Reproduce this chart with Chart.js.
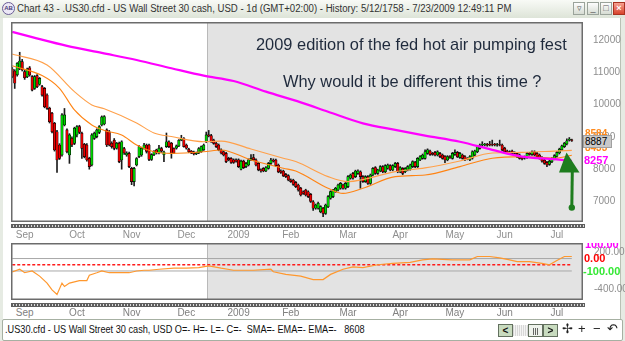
<!DOCTYPE html>
<html>
<head>
<meta charset="utf-8">
<title>.US30.cfd daily</title>
<script src="https://cdn.jsdelivr.net/npm/chart.js@4.4.1/dist/chart.umd.min.js"></script>
<style>
  html, body { margin: 0; padding: 0; }
  body { width: 625px; height: 341px; position: relative; overflow: hidden; background: #e6ebe3;
         font-family: "Liberation Sans", Arial, sans-serif; }
  .abs { position: absolute; }
  .fit { white-space: pre; display: inline-block; transform-origin: 0 50%; }
  #titlebar { left: 0; top: 0; width: 625px; height: 18px; background: linear-gradient(#f8faf6, #dde4d8); }
  #icon { left: 2px; top: 2px; width: 11px; height: 11px; border: 1px solid #6b5d96; border-radius: 50%;
          background: #ece8f6; font-size: 6px; line-height: 11px; text-align: center; color: #4a3d7a; font-weight: bold; }
  #title { left: 17px; top: 3px; font-size: 10px; color: #333; }
  .wbtn { position: absolute; top: 2px; width: 10px; height: 11px; border: 1px solid #9aa39a;
          background: linear-gradient(#fdfdfd, #d6dcd3); font-size: 9px; line-height: 10px; text-align: center; color: #555; }
  .wbtn.close { background: linear-gradient(#f7a08f, #d8432c); color: #fff; border-color: #a83220; font-weight: bold; }
  #client { left: 3px; top: 18px; width: 617px; height: 301px; background: #fff; border-right: 1px solid #b9c1b5; z-index: 0; }
  .cv { position: absolute; left: 0; top: 0; width: 625px; z-index: 2; }
  .strip { position: absolute; left: 11px; width: 574px; height: 2px; border-top: 1px solid #5e5e5e; border-bottom: 1px solid #5e5e5e;
           background: repeating-linear-gradient(90deg, #5e5e5e 0 2px, #dcdcdc 2px 3px); z-index: 1; }
  .note { position: absolute; font-size: 16.4px; line-height: 1; color: #1f2a3c; white-space: pre; z-index: 3; }
  .plab { position: absolute; font-size: 10px; font-weight: bold; line-height: 11px; z-index: 3; }
  #lastbox { left: 583px; top: 135px; width: 26px; height: 11px; background: #c9c9c9; border: 1px solid #a0a0a0;
             font-size: 10px; line-height: 11px; color: #000; padding-left: 1px; z-index: 4; }
  #osclabs { left: 583px; top: 243px; width: 42px; height: 57px; overflow: hidden; z-index: 3; }
  #osclabs div { position: absolute; font-weight: bold; font-size: 11px; line-height: 12px; white-space: pre; }
  #arrow { z-index: 3; }
  .mlab { position: absolute; top: 307px; width: 40px; margin-left: -20px; text-align: center; font-size: 10px;
          line-height: 12px; color: #808080; white-space: pre; z-index: 20; }
  #status { left: 2px; top: 319px; width: 619px; height: 20px; background: #fff; border: 1px solid #a6b0a2; border-radius: 2px; z-index: 1; }
  #stxt { left: 5px; top: 323px; font-size: 11px; color: #111; z-index: 3; }
  .sbtn { position: absolute; top: 324px; width: 13px; height: 11px; border: 1px solid #63705f; background: #c8dbbf;
          font-size: 10px; line-height: 11px; text-align: center; font-weight: bold; color: #111; z-index: 3; }
  .sico { position: absolute; top: 321px; font-size: 13px; line-height: 16px; color: #222; z-index: 3; }
</style>
</head>
<body>
<div id="titlebar" class="abs"></div>
<div id="icon" class="abs">AB</div>
<div id="title" class="abs fit">Chart 43 - .US30.cfd - US Wall Street 30 cash, USD - 1d (GMT+02:00) - History: 5/12/1758 - 7/23/2009 12:49:11 PM</div>
<div class="wbtn" style="left:573px">&#9663;</div>
<div class="wbtn" style="left:587px">_</div>
<div class="wbtn" style="left:600px">&#9633;</div>
<div class="wbtn close" style="left:613px">&#215;</div>
<div id="client" class="abs"></div>

<div class="strip" style="top:224px"></div>
<div class="strip" style="top:303px"></div>

<div class="cv" style="top:22px; height:219px"><canvas id="price" width="625" height="219"></canvas></div>
<div class="cv" style="top:243px; height:57px"><canvas id="osc" width="625" height="57"></canvas></div>

<div class="note" id="note1" style="left:256px; top:36px">2009 edition of the fed hot air pumping fest</div>
<div class="note" id="note2" style="left:283px; top:73px">Why would it be different this time ?</div>

<svg id="arrow" class="abs" style="left:540px; top:140px" width="60" height="80" viewBox="540 140 60 80">
  <polygon points="559,172.5 579.5,172.5 566.5,152.5" fill="#1e7d1e"/>
  <line x1="572.3" y1="171" x2="571.8" y2="207" stroke="#1e7d1e" stroke-width="3"/>
  <circle cx="571.8" cy="207.6" r="3.2" fill="#1e7d1e"/>
</svg>

<div class="plab" id="labUpper" style="left:585px; top:128px; color:#ff8a1c"></div>
<div class="plab" id="labLower" style="left:585px; top:142px; color:#ff8a1c"></div>
<div class="abs" id="lastbox"></div>
<div class="plab" id="labSma" style="left:584px; top:155px; color:#ff00ff; font-size:11px"></div>

<div id="osclabs" class="abs">
  <div style="left:2px; top:-5px; color:#ff00ff">100.00</div>
  <div style="left:1px; top:9px; color:#ff0000">0.00</div>
  <div style="left:0px; top:22px; color:#34e834">-100.00</div>
</div>

<div id="status" class="abs"></div>
<div id="stxt" class="abs fit">.US30.cfd - US Wall Street 30 cash, USD O=- H=- L=- C=-  SMA=- EMA=- EMA=-   8608</div>
<div class="sbtn" style="left:498px">&lt;</div>
<div class="abs" style="left:513px; top:325px; width:15px; height:11px; z-index:3; background:repeating-linear-gradient(90deg,#d8d8d8 0 1px,#f4f4f4 1px 2px)"></div>
<div class="sbtn" style="left:528px; background:#eef2ec; font-weight:normal; font-size:8px">|||</div>
<div class="sbtn" style="left:543px">&gt;</div>
<div class="sico" style="left:562px">&#10018;</div>
<div class="sico" style="left:578px">+</div>
<div class="sico" style="left:593px">&#8722;</div>
<div class="sico" style="left:607px">&#8630;</div>

<script>
// time axis: one slot per trading day, the last four slots stay empty
var slotCount = 230;
var monthNames = ['Sep', 'Oct', 'Nov', 'Dec', '2009', 'Feb', 'Mar', 'Apr', 'May', 'Jun', 'Jul'];
var monthIdx = [5, 26, 48, 70, 91, 112, 135, 156, 178, 198, 219];
var shadeFrom = 79;   // grey selection starts at this slot
var priceTicks = [7000, 8000, 9000, 10000, 11000, 12000];

// daily candles
var open = [
  11100, 11040, 10920, 11120, 11330, 11020, 10860, 11140, 10865, 10500,
  10895, 10630, 10555, 10500, 10295, 9885, 9730, 9420, 9160, 8750,
  8440, 9370, 9215, 8440, 8955, 8800, 9060, 9320, 9110, 8770,
  8750, 8335, 8130, 8955, 9010, 9140, 9370, 9400, 9215, 9160,
  8800, 8900, 8650, 8800, 8285, 8640, 8440, 8490, 8025, 7615,
  8130, 8390, 8440, 8650, 8750, 8750, 8300, 8450, 8600, 8500,
  8640, 8450, 8700, 8850, 8800, 8640, 8650, 8720, 8900, 8950,
  8750, 8620, 8560, 8530, 8470, 8500, 8540, 8600, 8850, 9060,
  9040, 8900, 8800, 8750, 8600, 8540, 8490, 8335, 8335, 8290,
  8290, 8290, 8000, 8250, 8080, 8130, 8290, 8360, 8290, 8180,
  7980, 8025, 7945, 8025, 8180, 8285, 8285, 8130, 7945, 7945,
  7840, 7800, 7665, 7665, 7590, 7510, 7410, 7300, 7355, 7300,
  7220, 6990, 6790, 6790, 6680, 6790, 6630, 6840, 7100, 7150,
  7305, 7355, 7410, 7510, 7410, 7460, 7720, 7870, 7770, 7870,
  7920, 7770, 7615, 7770, 7560, 7820, 8050, 7870, 7945, 8080,
  7920, 8030, 8110, 7975, 8080, 8180, 7920, 8025, 7920, 7975,
  8000, 8080, 8215, 8080, 8285, 8335, 8335, 8490, 8560, 8490,
  8520, 8440, 8490, 8440, 8390, 8285, 8390, 8335, 8460, 8520,
  8360, 8440, 8390, 8335, 8285, 8340, 8440, 8540, 8645, 8750,
  8750, 8770, 8770, 8760, 8770, 8740, 8760, 8750, 8650, 8560,
  8540, 8560, 8510, 8490, 8440, 8360, 8385, 8360, 8490, 8460,
  8540, 8490, 8440, 8360, 8280, 8210, 8150, 8230, 8320, 8400,
  8500, 8600, 8700, 8780, 8900, 8910
];
var high = [
  11150, 11080, 11300, 11620, 11400, 11060, 11130, 11180, 10900, 10900,
  10930, 10840, 10600, 10530, 10330, 9920, 9760, 9450, 9200, 8790,
  9720, 9880, 9250, 9100, 9000, 9300, 9350, 9360, 9150, 8800,
  8790, 8370, 9100, 9150, 9250, 9350, 9650, 9660, 9250, 9200,
  8850, 8950, 8830, 8840, 8880, 8680, 8540, 8530, 8060, 8060,
  8360, 8730, 8680, 8800, 8780, 8780, 8480, 8580, 8620, 8740,
  8680, 8560, 9120, 8880, 8830, 8660, 8750, 8920, 9050, 8980,
  8780, 8650, 8580, 8560, 8530, 8670, 8720, 8780, 9150, 9200,
  9080, 8930, 8830, 8780, 8630, 8570, 8520, 8370, 8360, 8320,
  8320, 8320, 8280, 8280, 8210, 8320, 8450, 8460, 8320, 8210,
  8010, 8050, 8080, 8210, 8340, 8320, 8310, 8160, 7980, 7970,
  7870, 7830, 7700, 7690, 7620, 7540, 7440, 7330, 7380, 7330,
  7250, 7030, 6920, 6980, 6870, 6820, 6920, 7180, 7330, 7380,
  7440, 7540, 7590, 7540, 7590, 7800, 7850, 7900, 7970, 7980,
  7950, 7800, 7800, 7800, 7850, 8050, 8080, 8000, 8110, 8110,
  8140, 8160, 8140, 8140, 8210, 8210, 8080, 8050, 8050, 8110,
  8160, 8260, 8240, 8360, 8420, 8470, 8600, 8630, 8590, 8520,
  8550, 8570, 8520, 8470, 8420, 8420, 8420, 8520, 8600, 8550,
  8520, 8470, 8420, 8360, 8420, 8570, 8590, 8730, 8780, 8850,
  8800, 8800, 8860, 8900, 8800, 8800, 8900, 8780, 8680, 8590,
  8570, 8590, 8540, 8520, 8470, 8390, 8410, 8520, 8520, 8570,
  8570, 8520, 8470, 8390, 8310, 8240, 8280, 8360, 8450, 8550,
  8650, 8750, 8830, 8940, 8980, 8930
];
var low = [
  10830, 10500, 10880, 11080, 11040, 10780, 10830, 10880, 10420, 10470,
  10520, 10600, 10260, 9900, 9850, 9430, 9120, 8560, 7900, 8300,
  8400, 9340, 8500, 8180, 8700, 8760, 9000, 9100, 8330, 8350,
  8250, 8000, 8100, 8920, 8970, 9100, 9340, 9370, 8700, 8720,
  8650, 8600, 8620, 8200, 8000, 8460, 8400, 8050, 7520, 7480,
  8100, 8360, 8400, 8620, 8500, 8260, 8270, 8420, 8470, 8470,
  8520, 8235, 8670, 8670, 8340, 8480, 8620, 8700, 8880, 8680,
  8620, 8510, 8480, 8440, 8450, 8480, 8520, 8580, 8820, 9000,
  8830, 8770, 8670, 8570, 8470, 8410, 8200, 8260, 8180, 8180,
  8220, 8050, 7980, 8020, 8050, 8100, 8260, 8260, 8100, 7950,
  7910, 7920, 7920, 8000, 8150, 8220, 8080, 7890, 7870, 7770,
  7740, 7640, 7590, 7500, 7430, 7320, 7170, 7220, 7170, 7120,
  6970, 6720, 6760, 6760, 6650, 6530, 6600, 6810, 7070, 7120,
  7280, 7330, 7380, 7380, 7380, 7430, 7690, 7690, 7740, 7840,
  7410, 7590, 7590, 7530, 7530, 7790, 7840, 7840, 7920, 7890,
  7890, 8000, 7950, 7950, 8050, 7890, 7890, 7830, 7890, 7950,
  7970, 8050, 8050, 8050, 8260, 8310, 8310, 8460, 8430, 8430,
  8410, 8410, 8360, 8310, 8200, 8260, 8330, 8310, 8430, 8360,
  8330, 8310, 8260, 8290, 8260, 8310, 8410, 8510, 8620, 8720,
  8720, 8710, 8720, 8720, 8720, 8710, 8720, 8570, 8510, 8490,
  8460, 8460, 8460, 8360, 8310, 8290, 8310, 8330, 8430, 8430,
  8410, 8360, 8310, 8220, 8150, 8080, 8120, 8200, 8290, 8370,
  8470, 8570, 8670, 8750, 8870, 8860
];
var close = [
  10870, 10660, 11280, 11350, 11070, 10830, 11100, 10915, 10450, 10865,
  10555, 10810, 10295, 9935, 9885, 9470, 9160, 8595, 8285, 8335,
  9680, 9680, 8540, 9060, 8750, 9265, 9320, 9140, 8645, 8390,
  8285, 8080, 9060, 9110, 9215, 9320, 9620, 9630, 8750, 8750,
  8700, 8645, 8800, 8235, 8850, 8500, 8500, 8080, 7615, 8025,
  8330, 8700, 8650, 8750, 8550, 8300, 8450, 8550, 8500, 8650,
  8560, 8530, 8850, 8700, 8500, 8500, 8720, 8900, 8950, 8700,
  8650, 8540, 8500, 8470, 8500, 8640, 8700, 8750, 9060, 9030,
  8850, 8800, 8700, 8600, 8500, 8440, 8235, 8290, 8210, 8210,
  8250, 8080, 8250, 8050, 8180, 8290, 8335, 8290, 8130, 7980,
  7945, 7945, 8050, 8180, 8285, 8250, 8110, 7920, 7900, 7800,
  7770, 7665, 7615, 7530, 7460, 7355, 7200, 7250, 7200, 7150,
  7000, 6790, 6890, 6945, 6840, 6630, 6890, 7150, 7305, 7355,
  7410, 7510, 7560, 7410, 7560, 7770, 7820, 7720, 7945, 7945,
  7770, 7615, 7770, 7560, 7820, 8025, 7870, 7975, 8080, 7920,
  8110, 8130, 7975, 8110, 8180, 7920, 8050, 7870, 8025, 8080,
  8130, 8235, 8080, 8335, 8390, 8440, 8540, 8600, 8460, 8460,
  8440, 8540, 8390, 8335, 8285, 8390, 8360, 8490, 8520, 8385,
  8490, 8335, 8285, 8315, 8390, 8540, 8560, 8700, 8750, 8770,
  8770, 8740, 8750, 8750, 8750, 8760, 8750, 8600, 8540, 8520,
  8490, 8490, 8490, 8390, 8335, 8320, 8340, 8490, 8460, 8540,
  8440, 8385, 8335, 8250, 8180, 8130, 8250, 8330, 8420, 8520,
  8620, 8720, 8800, 8880, 8930, 8887
];

// moving averages, sampled where they were read (slot index / price)
var smaIdx = [0, 8, 22, 36, 50, 64, 77, 89, 102, 116, 127, 141, 154, 166, 180, 193, 205, 218, 225];
var smaVal = [12250, 12090, 11820, 11600, 11380, 11125, 10895, 10730, 10400, 10070, 9780, 9420, 9215, 9040, 8850, 8600, 8390, 8310, 8257];
var upperIdx = [0, 14, 25, 32, 37, 50, 57, 64, 77, 84, 96, 109, 114, 127, 135, 154, 166, 180, 193, 205, 218, 225];
var upperVal = [11565, 11225, 10400, 9990, 9870, 9430, 9120, 9010, 8850, 8870, 8625, 8340, 8235, 7770, 7615, 7925, 8040, 8255, 8500, 8520, 8560, 8584];
var lowerIdx = [0, 12, 19, 25, 32, 37, 44, 50, 57, 64, 77, 84, 96, 109, 114, 127, 133, 141, 154, 166, 180, 193, 205, 218, 225];
var lowerVal = [11200, 10900, 10505, 9835, 9370, 9200, 9060, 8750, 8540, 8490, 8540, 8595, 8285, 8030, 7945, 7410, 7250, 7410, 7770, 7820, 8080, 8340, 8390, 8340, 8433];

// lower pane oscillator
var oscIdx = [0, 3, 5, 8, 11, 14, 16, 18, 20, 21, 23, 27, 30, 31, 34, 36, 39, 43, 47, 50,
              53, 55, 59, 65, 70, 75, 79, 84, 89, 97, 104, 105, 110, 116, 121, 125, 128, 133, 137, 141,
              147, 153, 160, 165, 169, 177, 184, 187, 192, 196, 200, 203, 208, 213, 216, 219, 222, 225];
var oscVal = [-117, -72, -128, -100, -183, -295, -405, -478, -295, -350, -295, -255, -255, -167, -128, -100, -128, -128, -128, -100,
              -88, -88, -72, -55, -55, -45, -17, -55, -88, -88, -72, -112, -155, -183, -238, -238, -155, -72, -33, -45,
              0, 22, 38, 78, 95, 78, 78, 133, 133, 112, 78, 50, 50, 22, 0, 67, 133, 133];
var oscTicks = [200, -400];
var oscLevels = [100, 0, -100];

var GREEN = '#00d200', RED = '#e80000', AXIS = '#8e8e8e';

var slots = [];
for (var i = 0; i < slotCount; i++) slots.push(String(i));

function pts(idx, val) {
  return idx.map(function (k, j) { return { x: String(k), y: val[j] }; });
}

var paneDeco = {
  id: 'paneDeco',
  beforeDraw: function (chart) {
    var a = chart.chartArea, ctx = chart.ctx, xs = chart.scales.x;
    var half = (a.right - a.left) / slotCount / 2;
    var sx = Math.round(xs.getPixelForValue(shadeFrom) - half);
    ctx.save();
    ctx.fillStyle = '#ffffff';
    ctx.fillRect(a.left, a.top, a.right - a.left, a.bottom - a.top);
    ctx.fillStyle = '#e3e3e3';
    ctx.fillRect(sx, a.top, a.right - sx, a.bottom - a.top);
    ctx.fillStyle = '#b9b9b9';
    ctx.fillRect(sx, a.top, 1, a.bottom - a.top);
    ctx.restore();
  },
  afterDraw: function (chart) {
    var a = chart.chartArea, ctx = chart.ctx;
    ctx.save();
    ctx.strokeStyle = '#6c6c6c';
    ctx.lineWidth = 1.5;
    ctx.strokeRect(a.left + 0.75, a.top + 0.75, a.right - a.left - 1.5, a.bottom - a.top - 1.5);
    ctx.restore();
  }
};

function timeAxis(pad, h, show) {
  return {
    type: 'category',
    offset: true,
    grid: { display: false },
    border: { display: false },
    ticks: {
      display: show,
      autoSkip: false, maxRotation: 0, minRotation: 0, padding: pad,
      color: AXIS, font: { family: 'Liberation Sans', size: 10 },
      callback: function (v, i) {
        var k = monthIdx.indexOf(i);
        return k < 0 ? null : monthNames[k];
      }
    },
    afterFit: function (s) { s.height = h; s.paddingLeft = 0; s.paddingRight = 0; }
  };
}

function sideAxis(extra) {
  var ax = {
    position: 'right',
    grid: { display: false },
    border: { display: false },
    afterFit: function (s) { s.width = 42; s.paddingTop = 0; s.paddingBottom = 0; }
  };
  for (var k in extra) ax[k] = extra[k];
  return ax;
}

var common = {
  responsive: false,
  animation: false,
  events: [],
  layout: { padding: { left: 11, right: 0, top: 0, bottom: 0 } },
  plugins: { legend: { display: false }, tooltip: { enabled: false } }
};

new Chart(document.getElementById('price'), {
  data: {
    labels: slots,
    datasets: [
      { type: 'line', data: pts(smaIdx, smaVal), borderColor: '#ff00ff', borderWidth: 2.2,
        pointRadius: 0, cubicInterpolationMode: 'monotone', order: 0 },
      { type: 'line', data: pts(upperIdx, upperVal), borderColor: '#ffa04a', borderWidth: 1.1,
        pointRadius: 0, cubicInterpolationMode: 'monotone', order: 0 },
      { type: 'line', data: pts(lowerIdx, lowerVal), borderColor: '#ff8414', borderWidth: 1.1,
        pointRadius: 0, cubicInterpolationMode: 'monotone', order: 0 },
      { type: 'bar', data: open.map(function (o, i) { return [o, close[i]]; }),
        backgroundColor: open.map(function (o, i) { return close[i] >= o ? GREEN : RED; }),
        borderColor: '#000', borderWidth: 0.6, borderSkipped: false, grouped: false,
        categoryPercentage: 1, barPercentage: 1, order: 1 },
      { type: 'bar', data: low.map(function (l, i) { return [l, high[i]]; }),
        backgroundColor: '#1c1c1c', barThickness: 1, grouped: false, order: 2 }
    ]
  },
  options: Object.assign({}, common, {
    scales: {
      x: timeAxis(-1, 19, true),
      y: sideAxis({
        min: 6365, max: 12557,
        afterBuildTicks: function (s) { s.ticks = priceTicks.map(function (v) { return { value: v }; }); },
        ticks: { padding: 2, color: AXIS, font: { family: 'Liberation Sans', size: 10 },
                 callback: function (v) { return String(v); } }
      })
    }
  }),
  plugins: [paneDeco]
});

var levelSets = oscLevels.map(function (lv) {
  var zero = lv === 0;
  return { type: 'line', data: pts([0, 225], [lv, lv]), borderColor: zero ? '#ff1a1a' : '#a8a8a8',
           borderWidth: zero ? 1.3 : 1, borderDash: zero ? [3, 2] : [], pointRadius: 0, order: 1 };
});

// lower pane: the canvas is just the pane, its x axis takes no room
var oscChart = new Chart(document.getElementById('osc'), {
  data: {
    labels: slots,
    datasets: [
      { type: 'line', data: pts(oscIdx, oscVal), borderColor: '#ff982e', borderWidth: 1.2,
        pointRadius: 0, tension: 0, order: 0 }
    ].concat(levelSets)
  },
  options: Object.assign({}, common, {
    scales: {
      x: timeAxis(0, 0, false),
      y: sideAxis({
        min: -567, max: 350,
        afterBuildTicks: function (s) { s.ticks = oscTicks.map(function (v) { return { value: v }; }); },
        ticks: { padding: 3, color: AXIS, font: { family: 'Liberation Sans', size: 10 },
                 callback: function (v) { return v.toFixed(2); } }
      })
    }
  }),
  plugins: [paneDeco]
});

// month row under the lower pane, placed with that chart's x scale
var oscX = oscChart.scales.x;
monthIdx.forEach(function (k, j) {
  var px = oscX ? oscX.getPixelForValue(k) : NaN;
  if (!isFinite(px)) px = 11 + (k + 0.5) * 572 / slotCount;
  var s = document.createElement('div');
  s.className = 'mlab';
  s.textContent = monthNames[j];
  s.style.left = px.toFixed(1) + 'px';
  document.body.appendChild(s);
});

// last-value tags on the price scale
document.getElementById('labUpper').textContent = String(upperVal[upperVal.length - 1]);
document.getElementById('labLower').textContent = String(lowerVal[lowerVal.length - 1]);
document.getElementById('labSma').textContent = String(smaVal[smaVal.length - 1]);
document.getElementById('lastbox').textContent = String(close[close.length - 1]);

// squeeze the chrome texts to the widths they have in the screenshot
function fit(id, w) {
  var el = document.getElementById(id);
  el.style.transform = 'scaleX(' + (w / el.offsetWidth) + ')';
}
fit('title', 494);
fit('stxt', 360);
</script>
</body>
</html>
